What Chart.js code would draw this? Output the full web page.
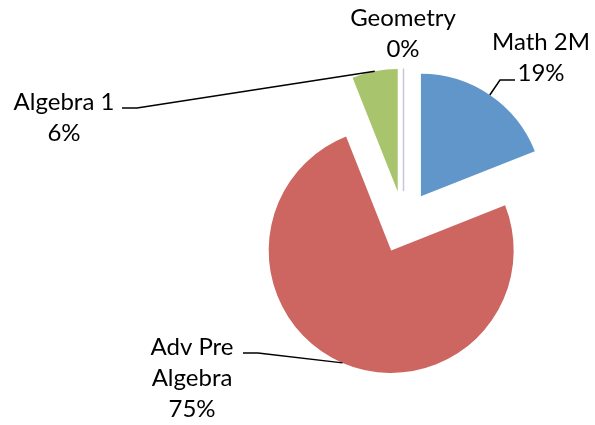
<!DOCTYPE html>
<html lang="en">
<head>
    <meta charset="UTF-8">
    <title>Courses</title>
    <script src="https://cdn.jsdelivr.net/npm/chart.js"></script>
    <style>
        html, body { margin: 0; padding: 0; background: #fff; }
        #wrap { width: 595px; height: 425px; }
    </style>
</head>
<body>
    <div id="wrap"><canvas id="myChart" width="595" height="425"></canvas></div>
    <script>
        const courses = ['Math 2M', 'Adv Pre Algebra', 'Algebra 1', 'Geometry'];
        const shares = [19, 75, 6, 0];
        const colors = ['#6096CA', '#CD6660', '#A8C46C', '#8C7CB8'];

        // label text lines and where they sit
        const labelLines = [['Math 2M', '19%'], ['Adv Pre', 'Algebra', '75%'], ['Algebra 1', '6%'], ['Geometry', '0%']];
        const labelPos = [[541, 50], [192, 355], [64, 110], [403, 26]];
        // elbow points of the leader lines (null = no leader)
        const elbows = [[[500, 80], [515, 80]], [[258, 353], [243, 353]], [[137, 108], [122, 108]], null];

        const EXPLODE = 31; // px every slice is pulled out from the centre

        // move each arc's centre outwards along its mid angle (same amount for all)
        const explodePlugin = {
            id: 'explode',
            afterDatasetsUpdate(chart) {
                chart.getDatasetMeta(0).data.forEach(function(el) {
                    const mid = (el.startAngle + el.endAngle) / 2;
                    el.x += Math.cos(mid) * EXPLODE;
                    el.y += Math.sin(mid) * EXPLODE;
                });
            }
        };

        const labelPlugin = {
            id: 'labels',
            afterDatasetsDraw(chart) {
                const ctx = chart.ctx;
                const meta = chart.getDatasetMeta(0);
                ctx.save();
                meta.data.forEach(function(el, i) {
                    const mid = (el.startAngle + el.endAngle) / 2;
                    const ex = el.x + Math.cos(mid) * el.outerRadius;
                    const ey = el.y + Math.sin(mid) * el.outerRadius;
                    if (shares[i] === 0) {
                        // zero slice shows as a thin line
                        ctx.strokeStyle = '#C9C4E2';
                        ctx.lineWidth = 1.5;
                        ctx.beginPath();
                        ctx.moveTo(el.x, el.y);
                        ctx.lineTo(ex, ey);
                        ctx.stroke();
                    }
                    if (elbows[i]) {
                        ctx.strokeStyle = '#000';
                        ctx.lineWidth = 1.5;
                        ctx.beginPath();
                        ctx.moveTo(ex, ey);
                        elbows[i].forEach(p => ctx.lineTo(p[0], p[1]));
                        ctx.stroke();
                    }
                    ctx.fillStyle = '#000';
                    ctx.font = '24px Lato';
                    ctx.textAlign = 'center';
                    ctx.textBaseline = 'alphabetic';
                    labelLines[i].forEach(function(t, k) {
                        ctx.fillText(t, labelPos[i][0], labelPos[i][1] + k * 31);
                    });
                });
                ctx.restore();
            }
        };

        new Chart(document.getElementById('myChart'), {
            type: 'pie',
            data: {
                labels: courses,
                datasets: [{
                    data: shares,
                    backgroundColor: colors,
                    borderWidth: 0,
                    clip: false
                }]
            },
            options: {
                responsive: false,
                animation: false,
                radius: 122.5,
                layout: { padding: { left: 260, right: 48, top: 30, bottom: 11 } },
                plugins: {
                    legend: { display: false },
                    tooltip: { enabled: false }
                }
            },
            plugins: [explodePlugin, labelPlugin]
        });
    </script>
</body>
</html>
